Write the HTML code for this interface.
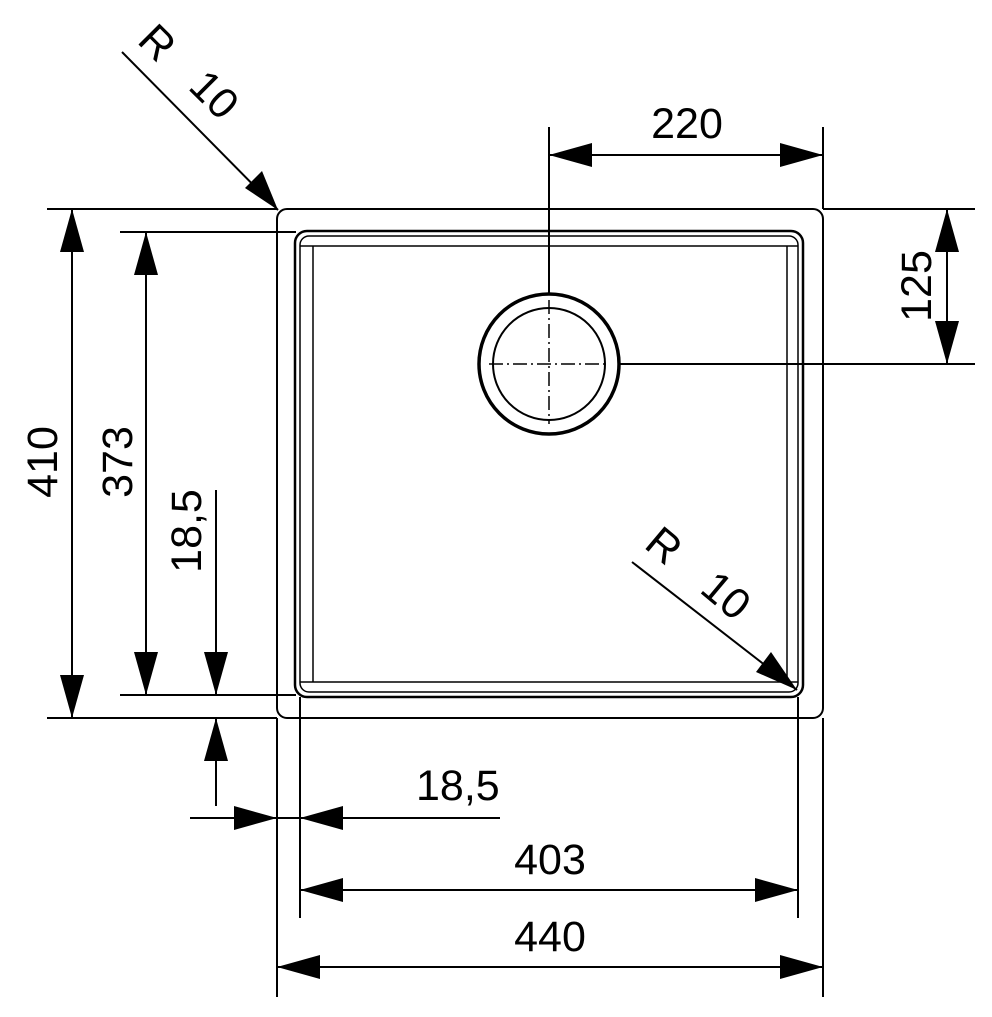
<!DOCTYPE html>
<html><head><style>html,body{margin:0;padding:0;background:#fff}svg{display:block}</style></head>
<body>
<svg width="992" height="1017" viewBox="0 0 992 1017" xmlns="http://www.w3.org/2000/svg" font-family="Liberation Sans, sans-serif" font-size="43">
<g fill="none" stroke="#000" stroke-width="2">
<rect x="277" y="209" width="546" height="509" rx="10"/>
<rect x="295" y="231" width="508" height="466" rx="12" stroke-width="2.5"/>
<rect x="300" y="236" width="498" height="456" rx="9" stroke-width="1.5"/>
<line x1="313" y1="246" x2="313" y2="682" stroke-width="1.5"/>
<line x1="787" y1="246" x2="787" y2="682" stroke-width="1.5"/>
<line x1="300" y1="246" x2="798" y2="246" stroke-width="1.5"/>
<line x1="300" y1="682" x2="798" y2="682" stroke-width="1.5"/>
<circle cx="549" cy="364" r="70" stroke-width="3.5"/>
<circle cx="549" cy="364" r="56" stroke-width="2"/>
<line x1="489" y1="364" x2="609" y2="364" stroke-dasharray="14,4,2,4" stroke-width="1.5"/>
<line x1="549" y1="300" x2="549" y2="424" stroke-dasharray="14,4,2,4" stroke-width="1.5"/>
<line x1="47" y1="209" x2="277" y2="209"/>
<line x1="120" y1="232" x2="296" y2="232"/>
<line x1="120" y1="695" x2="296" y2="695"/>
<line x1="47" y1="718" x2="277" y2="718"/>
<line x1="823" y1="209" x2="975" y2="209"/>
<line x1="620" y1="364" x2="975" y2="364"/>
<line x1="549" y1="127" x2="549" y2="294"/>
<line x1="823" y1="127" x2="823" y2="209"/>
<line x1="277" y1="718" x2="277" y2="997"/>
<line x1="823" y1="718" x2="823" y2="997"/>
<line x1="300" y1="697" x2="300" y2="918"/>
<line x1="798" y1="697" x2="798" y2="918"/>
<line x1="72" y1="209" x2="72" y2="718"/>
<line x1="146" y1="232" x2="146" y2="695"/>
<line x1="216" y1="490" x2="216" y2="695"/>
<line x1="216" y1="718" x2="216" y2="806"/>
<line x1="190" y1="818" x2="500" y2="818"/>
<line x1="300" y1="890" x2="798" y2="890"/>
<line x1="277" y1="967" x2="823" y2="967"/>
<line x1="549" y1="155" x2="823" y2="155"/>
<line x1="947" y1="209" x2="947" y2="364"/>
<line x1="122" y1="52" x2="278" y2="210"/>
<line x1="632" y1="562" x2="797" y2="690"/>
</g>
<g fill="#000">
<polygon points="72,209 60,252 84,252"/><polygon points="72,718 60,675 84,675"/>
<polygon points="146,232 134,275 158,275"/><polygon points="146,695 134,652 158,652"/>
<polygon points="216,695 204,652 228,652"/><polygon points="216,718 204,761 228,761"/>
<polygon points="277,818 234,806 234,830"/><polygon points="300,818 343,806 343,830"/>
<polygon points="300,890 343,878 343,902"/><polygon points="798,890 755,878 755,902"/>
<polygon points="277,967 320,955 320,979"/><polygon points="823,967 780,955 780,979"/>
<polygon points="549,155 592,143 592,167"/><polygon points="823,155 780,143 780,167"/>
<polygon points="947,209 935,252 959,252"/><polygon points="947,364 935,321 959,321"/>
<polygon points="278,210 245,188 262,171"/>
<polygon points="797,690 756,672 771,652"/>
</g>
<g fill="#000">
<text x="687" y="138" text-anchor="middle">220</text>
<text x="416" y="800">18,5</text>
<text x="550" y="874" text-anchor="middle">403</text>
<text x="550" y="951" text-anchor="middle">440</text>
<text transform="translate(57,462) rotate(-90)" text-anchor="middle">410</text>
<text transform="translate(132,462) rotate(-90)" text-anchor="middle">373</text>
<text transform="translate(201,531) rotate(-90)" text-anchor="middle">18,5</text>
<text transform="translate(931,286) rotate(-90)" text-anchor="middle">125</text>
<text transform="translate(155,45) rotate(45)" text-anchor="middle" dominant-baseline="middle">R</text>
<text transform="translate(212,97) rotate(45)" text-anchor="middle" dominant-baseline="middle">10</text>
<text transform="translate(662,548) rotate(40)" text-anchor="middle" dominant-baseline="middle">R</text>
<text transform="translate(724,598) rotate(40)" text-anchor="middle" dominant-baseline="middle">10</text>
</g>
</svg>
</body></html>
